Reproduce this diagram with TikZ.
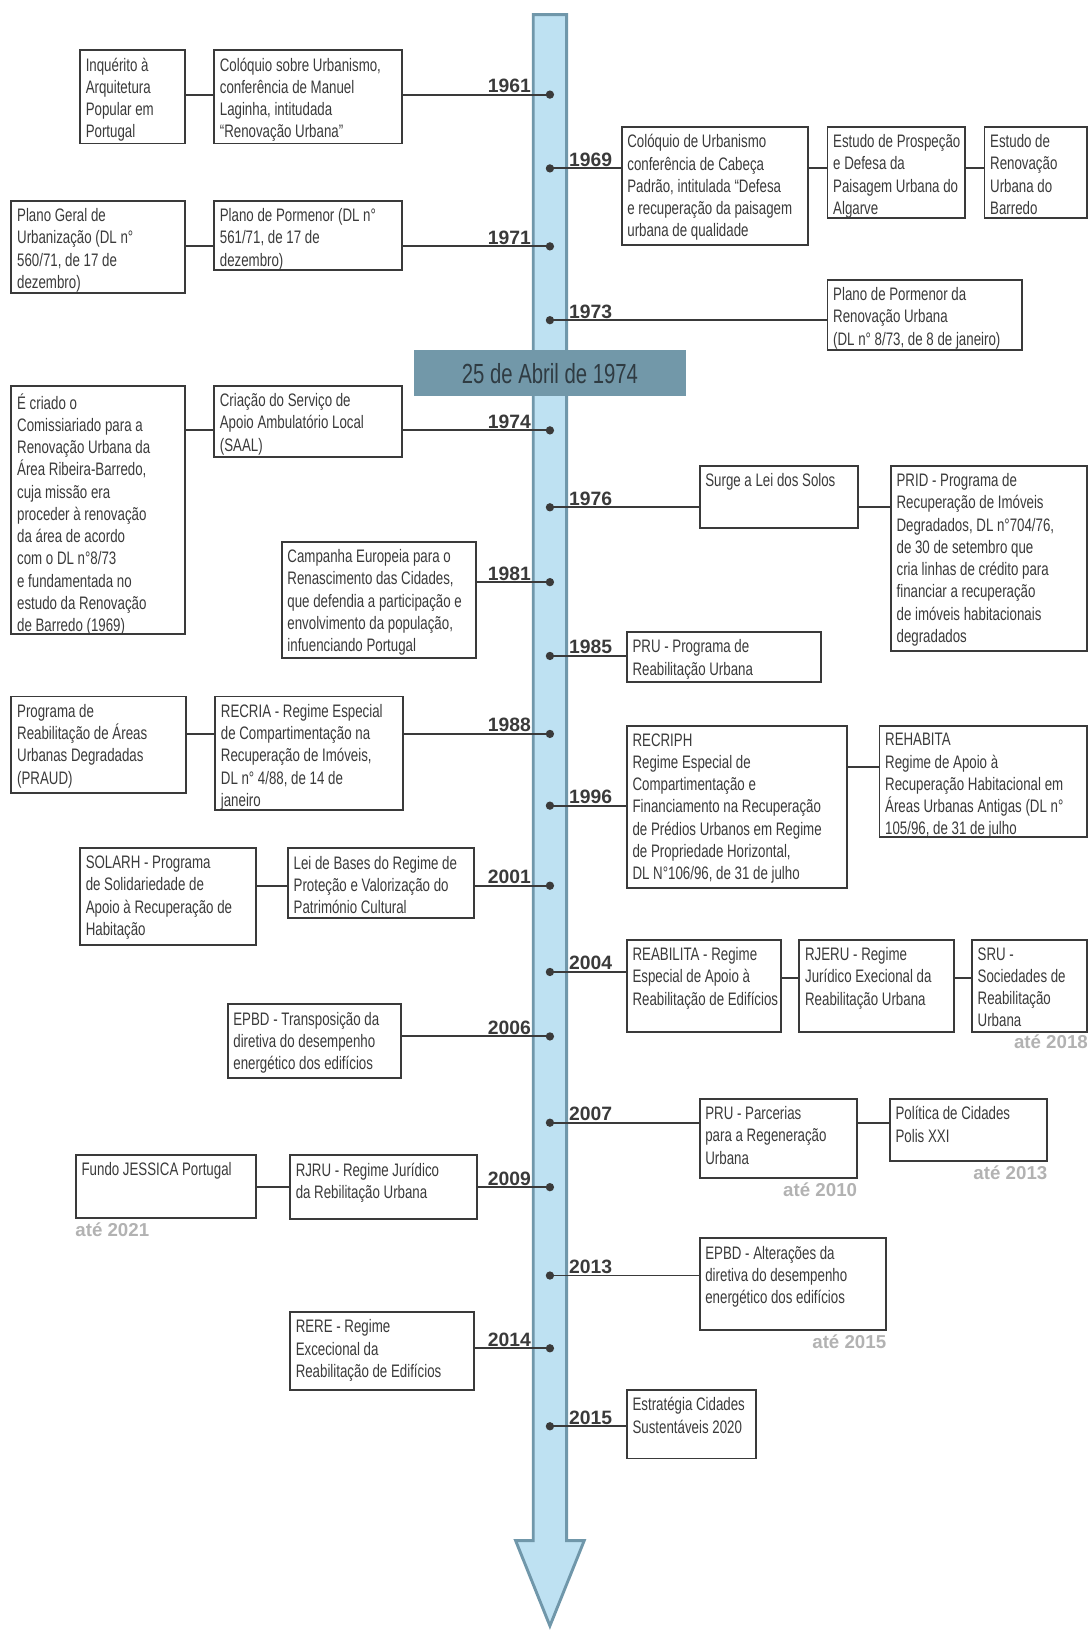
\documentclass[tikz,border=0pt]{standalone}
\usepackage{fontspec}
\setmainfont{Liberation Sans}[FakeStretch=0.735]
\newfontfamily\yearfont{Liberation Sans}
\usetikzlibrary{fit}

\definecolor{ink}{HTML}{3A3A3A}
\definecolor{shaftfill}{HTML}{BEE1F2}
\definecolor{shaftline}{HTML}{7097AA}
\definecolor{bannerfill}{HTML}{7298A9}
\definecolor{bannertext}{HTML}{2F3B42}
\definecolor{untilgray}{HTML}{B2B2B2}

\begin{document}
\begin{tikzpicture}[
            x=0.5pt, y=-0.5pt,
            box/.style={draw=ink, line width=0.9pt, inner sep=0pt},
            txt/.style={anchor=north west, xshift=3pt, yshift=-4pt, inner sep=0pt, align=left, text=ink, font=\fontsize{8.7}{10.7}\selectfont},
            link/.style={draw=ink, line width=0.9pt},
            dot/.style={circle, fill=ink, inner sep=0pt, minimum size=4pt},
            year/.style={inner sep=0pt, text=ink, font=\yearfont\bfseries\fontsize{9.3}{11}\selectfont},
            yearL/.style={year, anchor=base east, xshift=-9pt, yshift=1pt},
            yearR/.style={year, anchor=base west, xshift=9pt, yshift=1pt},
            until/.style={inner sep=0pt, anchor=base east, yshift=-8.5pt, text=untilgray, font=\yearfont\bfseries\fontsize{9}{11}\selectfont},
            ]
            \useasboundingbox (0,0) rectangle (1048,1568);

            % timeline arrow
            \draw[shaftline, fill=shaftfill, line width=1.4pt] (513,14) -- (545,14) -- (545,1482) -- (562,1482) -- (529,1564) -- (496,1482) -- (513,1482) -- cycle;
            \node[fit={(398,337) (660,381)}, inner sep=0pt, fill=bannerfill] (abril) {};
            \node[inner sep=0pt, text=bannertext, font=\fontsize{13.3}{15}\selectfont] (abril-t) at (abril) {25 de Abril de 1974};

            % years
            \node[dot] (d61) at (529,91) {};
            \node[dot] (d69) at (529,162) {};
            \node[dot] (d71) at (529,237) {};
            \node[dot] (d73) at (529,308) {};
            \node[dot] (d74) at (529,414) {};
            \node[dot] (d76) at (529,488) {};
            \node[dot] (d81) at (529,560) {};
            \node[dot] (d85) at (529,631) {};
            \node[dot] (d88) at (529,706) {};
            \node[dot] (d96) at (529,775) {};
            \node[dot] (d01) at (529,852) {};
            \node[dot] (d04) at (529,935) {};
            \node[dot] (d06) at (529,997) {};
            \node[dot] (d07) at (529,1080) {};
            \node[dot] (d09) at (529,1142) {};
            \node[dot] (d13) at (529,1227) {};
            \node[dot] (d14) at (529,1297) {};
            \node[dot] (d15) at (529,1372) {};
            \node[yearL] (y61) at (d61) {1961};
            \node[yearR] (y69) at (d69) {1969};
            \node[yearL] (y71) at (d71) {1971};
            \node[yearR] (y73) at (d73) {1973};
            \node[yearL] (y74) at (d74) {1974};
            \node[yearR] (y76) at (d76) {1976};
            \node[yearL] (y81) at (d81) {1981};
            \node[yearR] (y85) at (d85) {1985};
            \node[yearL] (y88) at (d88) {1988};
            \node[yearR] (y96) at (d96) {1996};
            \node[yearL] (y01) at (d01) {2001};
            \node[yearR] (y04) at (d04) {2004};
            \node[yearL] (y06) at (d06) {2006};
            \node[yearR] (y07) at (d07) {2007};
            \node[yearL] (y09) at (d09) {2009};
            \node[yearR] (y13) at (d13) {2013};
            \node[yearL] (y14) at (d14) {2014};
            \node[yearR] (y15) at (d15) {2015};

            % 1961
            \node[box, fit={(77,48) (178,138)}] (inq) {};
            \node[txt] (inq-t) at (inq.north west) {Inquérito à\\Arquitetura\\Popular em\\Portugal};
            \node[box, fit={(206,48) (387,138)}] (coloq) {};
            \node[txt] (coloq-t) at (coloq.north west) {Colóquio sobre Urbanismo,\\conferência de Manuel\\Laginha, intitudada\\“Renovação Urbana”};
            \draw[link] (inq.east |- d61) -- (coloq.west |- d61);
            \draw[link] (coloq.east |- d61) -- (d61.center);

            % 1969
            \node[box, fit={(598,122) (777,236)}] (coloq69) {};
            \node[txt] (coloq69-t) at (coloq69.north west) {Colóquio de Urbanismo\\conferência de Cabeça\\Padrão, intitulada “Defesa\\e recuperação da paisagem\\urbana de qualidade};
            \node[box, fit={(796,122) (928,210)}] (prosp) {};
            \node[txt] (prosp-t) at (prosp.north west) {Estudo de Prospeção\\e Defesa da\\Paisagem Urbana do\\Algarve};
            \node[box, fit={(947,122) (1046,210)}] (barredo) {};
            \node[txt] (barredo-t) at (barredo.north west) {Estudo de\\Renovação\\Urbana do\\Barredo};
            \draw[link] (d69.center) -- (coloq69.west |- d69);
            \draw[link] (coloq69.east |- d69) -- (prosp.west |- d69);
            \draw[link] (prosp.east |- d69) -- (barredo.west |- d69);

            % 1971
            \node[box, fit={(11,193) (178,282)}] (plgeral) {};
            \node[txt] (plgeral-t) at (plgeral.north west) {Plano Geral de\\Urbanização (DL n°\\560/71, de 17 de\\dezembro)};
            \node[box, fit={(206,193) (387,260)}] (plpor) {};
            \node[txt] (plpor-t) at (plpor.north west) {Plano de Pormenor (DL n°\\561/71, de 17 de\\dezembro)};
            \draw[link] (plgeral.east |- d71) -- (plpor.west |- d71);
            \draw[link] (plpor.east |- d71) -- (d71.center);

            % 1973
            \node[box, fit={(796,269) (983,337)}] (plpor73) {};
            \node[txt] (plpor73-t) at (plpor73.north west) {Plano de Pormenor da\\Renovação Urbana\\(DL n° 8/73, de 8 de janeiro)};
            \draw[link] (d73.center) -- (plpor73.west |- d73);

            % 1974
            \node[box, fit={(11,371) (178,610)}] (comiss) {};
            \node[txt] (comiss-t) at (comiss.north west) {É criado o\\Comissiariado para a\\Renovação Urbana da\\Área Ribeira-Barredo,\\cuja missão era\\proceder à renovação\\da área de acordo\\com o DL n°8/73\\e fundamentada no\\estudo da Renovação\\de Barredo (1969)};
            \node[box, fit={(206,371) (387,440)}] (saal) {};
            \node[txt] (saal-t) at (saal.north west) {Criação do Serviço de\\Apoio Ambulatório Local\\(SAAL)};
            \draw[link] (comiss.east |- d74) -- (saal.west |- d74);
            \draw[link] (saal.east |- d74) -- (d74.center);

            % 1976
            \node[box, fit={(673,448) (825,508)}] (solos) {};
            \node[txt] (solos-t) at (solos.north west) {Surge a Lei dos Solos};
            \node[box, fit={(857,448) (1046,626)}] (prid) {};
            \node[txt] (prid-t) at (prid.north west) {PRID - Programa de\\Recuperação de Imóveis\\Degradados, DL n°704/76,\\de 30 de setembro que\\cria linhas de crédito para\\financiar a recuperação\\de imóveis habitacionais\\degradados};
            \draw[link] (d76.center) -- (solos.west |- d76);
            \draw[link] (solos.east |- d76) -- (prid.west |- d76);

            % 1981
            \node[box, fit={(271,521) (458,633)}] (campanha) {};
            \node[txt] (campanha-t) at (campanha.north west) {Campanha Europeia para o\\Renascimento das Cidades,\\que defendia a participação e\\envolvimento da população,\\infuenciando Portugal};
            \draw[link] (campanha.east |- d81) -- (d81.center);

            % 1985
            \node[box, fit={(603,608) (790,656)}] (pru85) {};
            \node[txt] (pru85-t) at (pru85.north west) {PRU - Programa de\\Reabilitação Urbana};
            \draw[link] (d85.center) -- (pru85.west |- d85);

            % 1988
            \node[box, fit={(11,670) (179,763)}] (praud) {};
            \node[txt] (praud-t) at (praud.north west) {Programa de\\Reabilitação de Áreas\\Urbanas Degradadas\\(PRAUD)};
            \node[box, fit={(207,670) (388,779)}] (recria) {};
            \node[txt] (recria-t) at (recria.north west) {RECRIA - Regime Especial\\de Compartimentação na\\Recuperação de Imóveis,\\DL n° 4/88, de 14 de\\janeiro};
            \draw[link] (praud.east |- d88) -- (recria.west |- d88);
            \draw[link] (recria.east |- d88) -- (d88.center);

            % 1996
            \node[box, fit={(603,698) (815,854)}] (recriph) {};
            \node[txt] (recriph-t) at (recriph.north west) {RECRIPH\\Regime Especial de\\Compartimentação e\\Financiamento na Recuperação\\de Prédios Urbanos em Regime\\de Propriedade Horizontal,\\DL N°106/96, de 31 de julho};
            \node[box, fit={(846,698) (1046,805)}] (rehabita) {};
            \node[txt] (rehabita-t) at (rehabita.north west) {REHABITA\\Regime de Apoio à\\Recuperação Habitacional em\\Áreas Urbanas Antigas (DL n°\\105/96, de 31 de julho};
            \coordinate (c96) at (830,738);
            \draw[link] (d96.center) -- (recriph.west |- d96);
            \draw[link] (recriph.east |- c96) -- (rehabita.west |- c96);

            % 2001
            \node[box, fit={(77,816) (246,909)}] (solarh) {};
            \node[txt] (solarh-t) at (solarh.north west) {SOLARH - Programa\\de Solidariedade de\\Apoio à Recuperação de\\Habitação};
            \node[box, fit={(277,816) (456,883)}] (leibases) {};
            \node[txt] (leibases-t) at (leibases.north west) {Lei de Bases do Regime de\\Proteção e Valorização do\\Património Cultural};
            \draw[link] (solarh.east |- d01) -- (leibases.west |- d01);
            \draw[link] (leibases.east |- d01) -- (d01.center);

            % 2004
            \node[box, fit={(603,904) (751,993)}] (reabilita) {};
            \node[txt] (reabilita-t) at (reabilita.north west) {REABILITA - Regime\\Especial de Apoio à\\Reabilitação de Edifícios};
            \node[box, fit={(769,904) (918,993)}] (rjeru) {};
            \node[txt] (rjeru-t) at (rjeru.north west) {RJERU - Regime\\Jurídico Execional da\\Reabilitação Urbana};
            \node[box, fit={(935,904) (1046,993)}] (sru) {};
            \node[txt] (sru-t) at (sru.north west) {SRU -\\Sociedades de\\Reabilitação\\Urbana};
            \node[until, yshift=1pt] (u18) at (sru.south east) {até 2018};
            \coordinate (c04) at (760,941);
            \draw[link] (d04.center) -- (reabilita.west |- d04);
            \draw[link] (reabilita.east |- c04) -- (rjeru.west |- c04);
            \draw[link] (rjeru.east |- c04) -- (sru.west |- c04);

            % 2006
            \node[box, fit={(219,966) (386,1037)}] (epbd06) {};
            \node[txt] (epbd06-t) at (epbd06.north west) {EPBD - Transposição da\\diretiva do desempenho\\energético dos edifícios};
            \draw[link] (epbd06.east |- d06) -- (d06.center);

            % 2007
            \node[box, fit={(673,1057) (824,1133)}] (pru07) {};
            \node[txt] (pru07-t) at (pru07.north west) {PRU - Parcerias\\para a Regeneração\\Urbana};
            \node[until] (u10) at (pru07.south east) {até 2010};
            \node[box, fit={(856,1057) (1007,1117)}] (polis) {};
            \node[txt] (polis-t) at (polis.north west) {Política de Cidades\\Polis XXI};
            \node[until] (u13) at (polis.south east) {até 2013};
            \draw[link] (d07.center) -- (pru07.west |- d07);
            \draw[link] (pru07.east |- d07) -- (polis.west |- d07);

            % 2009
            \node[box, fit={(73,1111) (246,1172)}] (jessica) {};
            \node[txt] (jessica-t) at (jessica.north west) {Fundo JESSICA Portugal};
            \node[until, anchor=base west] (u21) at (jessica.south west) {até 2021};
            \node[box, fit={(279,1111) (459,1173)}] (rjru) {};
            \node[txt] (rjru-t) at (rjru.north west) {RJRU - Regime Jurídico\\da Rebilitação Urbana};
            \draw[link] (jessica.east |- d09) -- (rjru.west |- d09);
            \draw[link] (rjru.east |- d09) -- (d09.center);

            % 2013
            \node[box, fit={(673,1191) (852,1279)}] (epbd13) {};
            \node[txt] (epbd13-t) at (epbd13.north west) {EPBD - Alterações da\\diretiva do desempenho\\energético dos edifícios};
            \node[until] (u15) at (epbd13.south east) {até 2015};
            \draw[link] (d13.center) -- (epbd13.west |- d13);

            % 2014
            \node[box, fit={(279,1262) (456,1337)}] (rere) {};
            \node[txt] (rere-t) at (rere.north west) {RERE - Regime\\Excecional da\\Reabilitação de Edifícios};
            \draw[link] (rere.east |- d14) -- (d14.center);

            % 2015
            \node[box, fit={(603,1337) (727,1403)}] (estrat) {};
            \node[txt] (estrat-t) at (estrat.north west) {Estratégia Cidades\\Sustentáveis 2020};
            \draw[link] (d15.center) -- (estrat.west |- d15);
        \end{tikzpicture}
\end{document}
